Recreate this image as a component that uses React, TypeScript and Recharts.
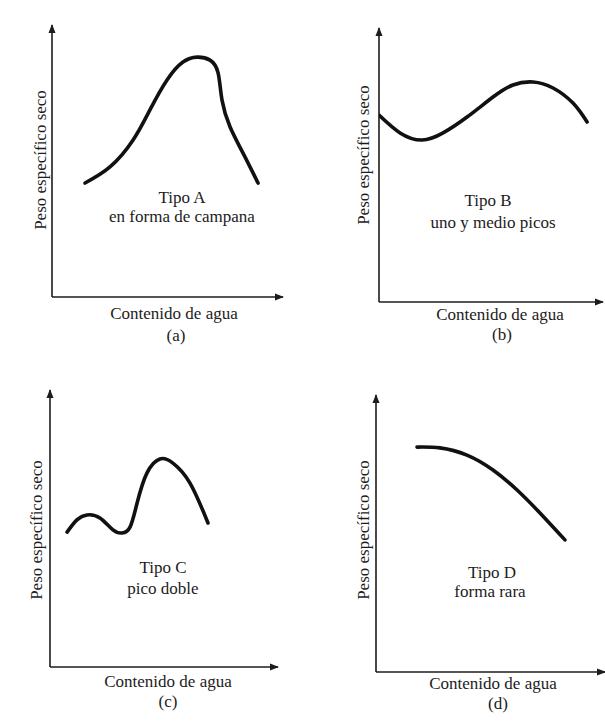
import React from 'react';
import { LineChart, Line, XAxis, YAxis, ReferenceDot, ReferenceLine } from 'recharts';

// curve shapes (arbitrary 0-10 units on both axes)
const waterA = [1.43, 2.51, 3.51, 4.24, 4.98, 5.67, 6.28, 6.84, 7.19, 7.36, 7.71, 8.27, 8.92];
const weightA = [4.19, 4.78, 5.77, 6.88, 7.98, 8.64, 8.82, 8.71, 8.24, 7.24, 6.25, 5.29, 4.19];

const waterB = [0, 0.94, 1.92, 2.86, 3.93, 5.09, 5.98, 6.88, 7.77, 8.66, 9.29];
const weightB = [6.82, 6.17, 5.91, 6.17, 6.75, 7.48, 7.92, 8.03, 7.81, 7.26, 6.57];

const waterC = [0.75, 1.18, 1.62, 2.19, 2.76, 3.16, 3.51, 3.82, 4.25, 4.82, 5.39, 6.14, 6.93];
const weightC = [4.87, 5.31, 5.49, 5.38, 4.95, 4.84, 5.05, 5.92, 7.0, 7.51, 7.36, 6.64, 5.2];

const waterD = [1.79, 2.79, 3.97, 5.11, 6.16, 7.16, 8.25];
const weightD = [8.12, 8.09, 7.83, 7.29, 6.57, 5.74, 4.77];

const typeTitles = ['Tipo A', 'Tipo B', 'Tipo C', 'Tipo D'];
const typeNames = ['en forma de campana', 'uno y medio picos', 'pico doble', 'forma rara'];
const panelTags = ['(a)', '(b)', '(c)', '(d)'];
const xTitle = 'Contenido de agua';
const yTitle = 'Peso específico seco';

const FONT = '"Liberation Serif", "Times New Roman", serif';
const INK = '#1c1c1c';
const PAD = 10;

const toRows = (xs: number[], ys: number[]) => xs.map((x, i) => ({ x, y: ys[i] }));

const ArrowUp = (p: any) => (
  <polygon points={`${p.cx},${p.cy - 1} ${p.cx - 3.5},${p.cy + 8} ${p.cx + 3.5},${p.cy + 8}`} fill={INK} />
);
const ArrowRight = (p: any) => (
  <polygon points={`${p.cx + 1},${p.cy} ${p.cx - 8},${p.cy - 3.5} ${p.cx - 8},${p.cy + 3.5}`} fill={INK} />
);

const Txt = ({ x, y, children, rotate }: any) => (
  <div
    style={{
      position: 'absolute',
      left: x,
      top: y,
      transform: `translate(-50%, -50%)${rotate ? ' rotate(-90deg)' : ''}`,
      whiteSpace: 'nowrap',
      fontFamily: FONT,
      fontSize: 17,
      color: INK,
      lineHeight: 1,
    }}
  >
    {children}
  </div>
);

type PanelProps = {
  left: number;
  top: number;
  right: number;
  bottom: number;
  rows: { x: number; y: number }[];
};

const Panel = ({ left, top, right, bottom, rows }: PanelProps) => (
  <div style={{ position: 'absolute', left: left - PAD, top: top - PAD }}>
    <LineChart
      width={right - left + PAD * 2}
      height={bottom - top + PAD * 2}
      data={rows}
      margin={{ top: PAD, right: PAD, bottom: PAD, left: PAD }}
    >
      <XAxis type="number" dataKey="x" domain={[0, 10]} hide allowDataOverflow />
      <YAxis type="number" domain={[0, 10]} hide allowDataOverflow />
      <ReferenceLine x={0} stroke={INK} strokeWidth={1.6} ifOverflow="visible" />
      <ReferenceLine y={0} stroke={INK} strokeWidth={1.6} ifOverflow="visible" />
      <ReferenceDot x={0} y={10} ifOverflow="visible" shape={ArrowUp} />
      <ReferenceDot x={10} y={0} ifOverflow="visible" shape={ArrowRight} />
      <Line
        type="natural"
        dataKey="y"
        stroke="#111"
        strokeWidth={3.6}
        strokeLinecap="round"
        dot={false}
        activeDot={false}
        isAnimationActive={false}
      />
    </LineChart>
  </div>
);

export default function App() {
  return (
    <div style={{ position: 'absolute', left: 0, top: 0, width: 605, height: 722, background: '#fff', overflow: 'hidden' }}>
      <Panel left={52} top={25} right={283} bottom={297} rows={toRows(waterA, weightA)} />
      <Panel left={379} top={28} right={603} bottom={302} rows={toRows(waterB, weightB)} />
      <Panel left={50} top={390} right={278} bottom={667} rows={toRows(waterC, weightC)} />
      <Panel left={376} top={395} right={605} bottom={672} rows={toRows(waterD, weightD)} />

      <Txt x={40} y={160} rotate>{yTitle}</Txt>
      <Txt x={182} y={197}>{typeTitles[0]}</Txt>
      <Txt x={182} y={216}>{typeNames[0]}</Txt>
      <Txt x={174} y={313}>{xTitle}</Txt>
      <Txt x={176} y={335}>{panelTags[0]}</Txt>

      <Txt x={363} y={155} rotate>{yTitle}</Txt>
      <Txt x={488} y={200}>{typeTitles[1]}</Txt>
      <Txt x={493} y={222}>{typeNames[1]}</Txt>
      <Txt x={500} y={314}>{xTitle}</Txt>
      <Txt x={502} y={334}>{panelTags[1]}</Txt>

      <Txt x={36} y={530} rotate>{yTitle}</Txt>
      <Txt x={163} y={567}>{typeTitles[2]}</Txt>
      <Txt x={163} y={588}>{typeNames[2]}</Txt>
      <Txt x={168} y={681}>{xTitle}</Txt>
      <Txt x={168} y={701}>{panelTags[2]}</Txt>

      <Txt x={363} y={530} rotate>{yTitle}</Txt>
      <Txt x={492} y={572}>{typeTitles[3]}</Txt>
      <Txt x={490} y={591}>{typeNames[3]}</Txt>
      <Txt x={493} y={683}>{xTitle}</Txt>
      <Txt x={498} y={703}>{panelTags[3]}</Txt>
    </div>
  );
}
